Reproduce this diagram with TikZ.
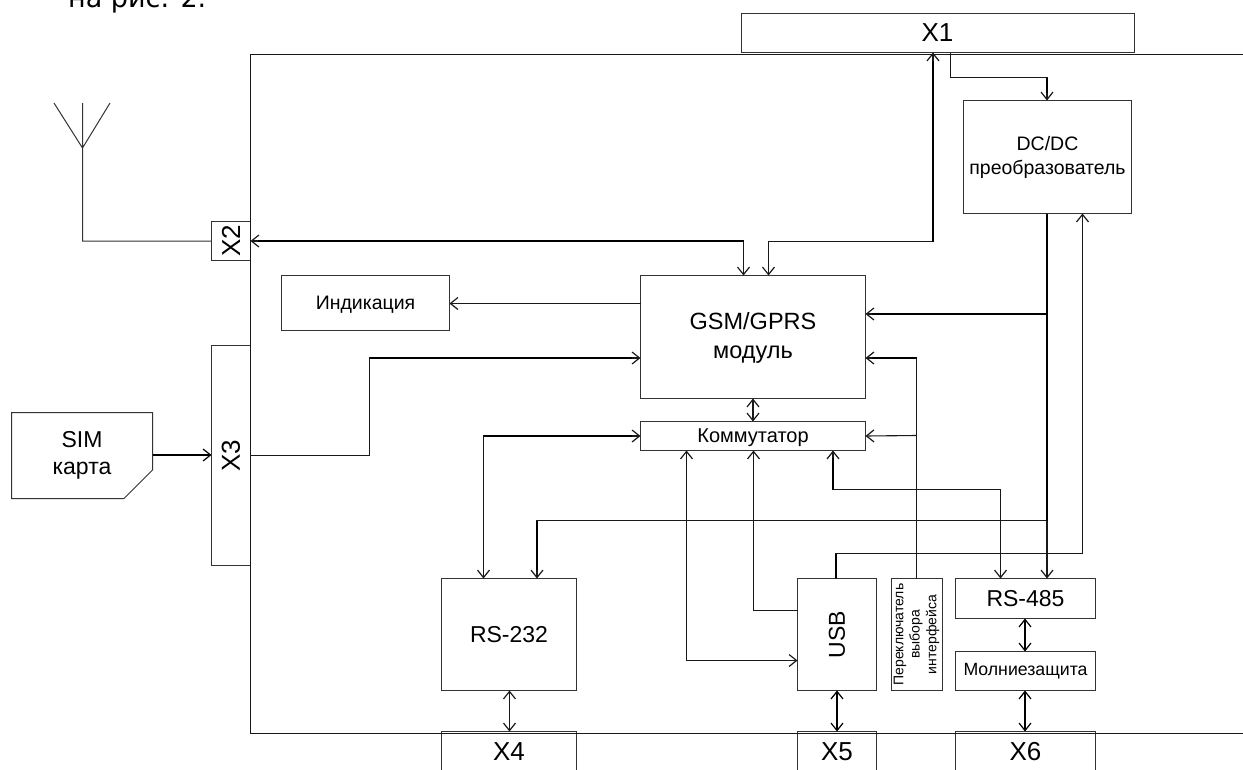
\documentclass[tikz,border=0pt]{standalone}
\usepackage{fontspec}
\setmainfont{Liberation Sans}
\newfontfamily\topfont{DejaVu Sans}
\usetikzlibrary{arrows.meta}
\newcommand{\fs}[1]{\fontsize{#1}{#1}\selectfont}
\newcommand{\dn}[2]{\raisebox{-#1}[\height][\depth]{#2}}
\tikzset{
  blk/.style={draw=black!80,line width=1pt,fill=white,inner sep=0pt,outer sep=0pt,align=center},
  lbl/.style={inner sep=0pt,outer sep=0pt,align=center},
  wire/.style={draw=black!90,line width=1.1pt},
  heavy/.style={draw=black,line width=1.8pt},
  tip/.style={arrows={Straight Barb[length=7.5pt,width=12pt,line width=1.2pt]-Straight Barb[length=7.5pt,width=12pt,line width=1.2pt]}},
  endtip/.style={arrows={-Straight Barb[length=7.5pt,width=12pt,line width=1.2pt]}},
}
\begin{document}
\begin{tikzpicture}[x=1pt,y=-1pt]
\useasboundingbox (0,0) rectangle (1243,769);
\clip (0,0) rectangle (1243,769);
\fill[white] (0,0) rectangle (1243,769);
% clipped caption line
\node[inner sep=0pt,anchor=base west] (cap) at (68,7) {\topfont\fs{27}на рис. 2.};
% blocks
\node[blk,minimum width=393pt,minimum height=39pt] (x1) at (937.5,33) {\fs{26}X1};
\node[blk,minimum width=39pt,minimum height=39pt] (x2) at (231,241) {\rotatebox{90}{\fs{26}X2}};
\node[blk,minimum width=39pt,minimum height=220pt] (x3) at (231,455.5) {\rotatebox{90}{\fs{26}X3}};
\node[blk,minimum width=135pt,minimum height=40pt] (x4) at (509,751.5) {\fs{26}X4};
\node[blk,minimum width=79pt,minimum height=40pt] (x5) at (837,751.5) {\fs{26}X5};
\node[blk,minimum width=140pt,minimum height=40pt] (x6) at (1025.5,751.5) {\fs{26}X6};
\node[blk,minimum width=168pt,minimum height=113pt] (dc) at (1047.5,157) {\dn{1.5pt}{\fs{19.5}\begin{tabular}{@{}c@{}}DC/DC\\[4pt]преобразователь\end{tabular}}};
\node[blk,minimum width=168pt,minimum height=55pt] (ind) at (365.5,303) {\dn{2pt}{\fs{19.5}Индикация}};
\node[blk,minimum width=225pt,minimum height=123pt] (gsm) at (753,337) {\dn{2pt}{\fs{23.5}\begin{tabular}{@{}c@{}}GSM/GPRS\\[6pt]модуль\end{tabular}}};
\node[blk,minimum width=225pt,minimum height=29pt] (kom) at (753,436) {\dn{1.5pt}{\fs{20}Коммутатор}};
\node[blk,minimum width=135pt,minimum height=112pt] (rs232) at (509,634.5) {\fs{23}RS-232};
\node[blk,minimum width=79pt,minimum height=112pt] (usb) at (837,634.5) {\rotatebox{90}{\fs{23}USB}};
\node[blk,minimum width=51pt,minimum height=112pt] (sw) at (917,634.5) {\rotatebox{90}{\fs{14}\begin{tabular}{@{}c@{}}Переключатель\\[2pt]выбора\\[2pt]интерфейса\end{tabular}}};
\node[blk,minimum width=140pt,minimum height=40pt] (rs485) at (1025.5,598.5) {\fs{23}RS-485};
\node[blk,minimum width=140pt,minimum height=39pt] (mz) at (1025.5,671) {\fs{17.7}Молниезащита};
% SIM card
\node[lbl,minimum width=141pt,minimum height=86pt] (sim) at (82,455.5) {\dn{1pt}{\fs{23}\begin{tabular}{@{}c@{}}SIM\\[4pt]карта\end{tabular}}};
\draw[blk,fill=none] (sim.north west) -- (sim.north east) -- (152.5,470) -- (124,498.5) -- (sim.south west) -- cycle;
% housing
\coordinate (fa) at (1243,54.5);
\coordinate (fb) at (250.5,54.5);
\coordinate (fc) at (250.5,733.2);
\coordinate (fd) at (1243,733.2);
\draw[draw=black!90,line width=1pt] (fa) -- (fb) -- (fc) -- (fd);
% antenna
\coordinate (ant) at (82.5,148);
\coordinate (antc) at (82.5,103);
\coordinate (antl) at (54,103);
\coordinate (antr) at (110,103);
\coordinate (antb) at (82.5,241);
\draw[blk,fill=none] (antl) -- (ant) -- (antr) (antc) -- (ant) -- (antb) -- (antb -| x2.west);
% connectors: base wires with tips
\draw[wire,tip] (x2.east) -- (743.5,241) -- (743.5,0 |- gsm.north);
\draw[wire,tip] (768.5,0 |- gsm.north) -- (768.5,241.5) -- (933,241.5) -- (933,0 |- x1.south);
\draw[wire,endtip] (950.5,0 |- x1.south) -- (950.5,77.5) -- (1047,77.5) -- (1047,0 |- dc.north);
\draw[wire,endtip] (1047,0 |- dc.south) -- (1047,314) -- (gsm.east |- 0,314);
\draw[wire,endtip] (1047,314) -- (1047,0 |- rs485.north);
\draw[wire,endtip] (1047,520.5) -- (537,520.5) -- (537,0 |- rs232.north);
\draw[wire,endtip] (836,0 |- usb.north) -- (836,553.5) -- (1082.5,553.5) -- (1082.5,0 |- dc.south);
\draw[wire,endtip] (916.5,0 |- sw.north) -- (916.5,358) -- (gsm.east |- 0,358);
\draw[wire,endtip] (916.5,435.5) -- (kom.east);
\draw[wire,endtip] (gsm.west |- 0,303.5) -- (ind.east |- 0,303.5);
\draw[wire,tip] (gsm.south) -- (kom.north);
\draw[wire,tip] (483.5,0 |- rs232.north) -- (483.5,436) -- (kom.west);
\draw[wire,tip] (686.5,0 |- kom.south) -- (686.5,660.5) -- (usb.west |- 0,660.5);
\draw[wire,endtip] (usb.west |- 0,610.5) -- (753.5,610.5) -- (753.5,0 |- kom.south);
\draw[wire,tip] (833,0 |- kom.south) -- (833,489.5) -- (1000.5,489.5) -- (1000.5,0 |- rs485.north);
\draw[wire,endtip] (x3.east) -- (369.5,455.5) -- (369.5,358) -- (gsm.west |- 0,358);
\draw[heavy,endtip] (sim.east |- 0,455) -- (x3.west |- 0,455);
\draw[wire,tip] (509.5,0 |- rs232.south) -- (509.5,0 |- x4.north);
\draw[heavy,tip] (usb.south) -- (x5.north);
\draw[heavy,tip] (1025,0 |- rs485.south) -- (1025,0 |- mz.north);
\draw[heavy,tip] (1025,0 |- mz.south) -- (1025,0 |- x6.north);
% heavier stretches of the wires
\draw[heavy] (258,241) -- (743.5,241);
\draw[heavy] (933,241.5) -- (933,61);
\draw[heavy] (1047,0 |- dc.south) -- (1047,520.5);
\draw[heavy] (1047,314) -- (872,314);
\draw[heavy] (916.5,358) -- (872,358);
\draw[heavy] (369.5,358) -- (632,358);
\draw[heavy] (483.5,436) -- (632,436);
\draw[heavy] (537,520.5) -- (537,570);
\draw[heavy] (836,578) -- (836,553.5);
\draw[heavy] (833,458) -- (833,489.5);
\draw[heavy] (1047,77.5) -- (1047,93);
\end{tikzpicture}
\end{document}
